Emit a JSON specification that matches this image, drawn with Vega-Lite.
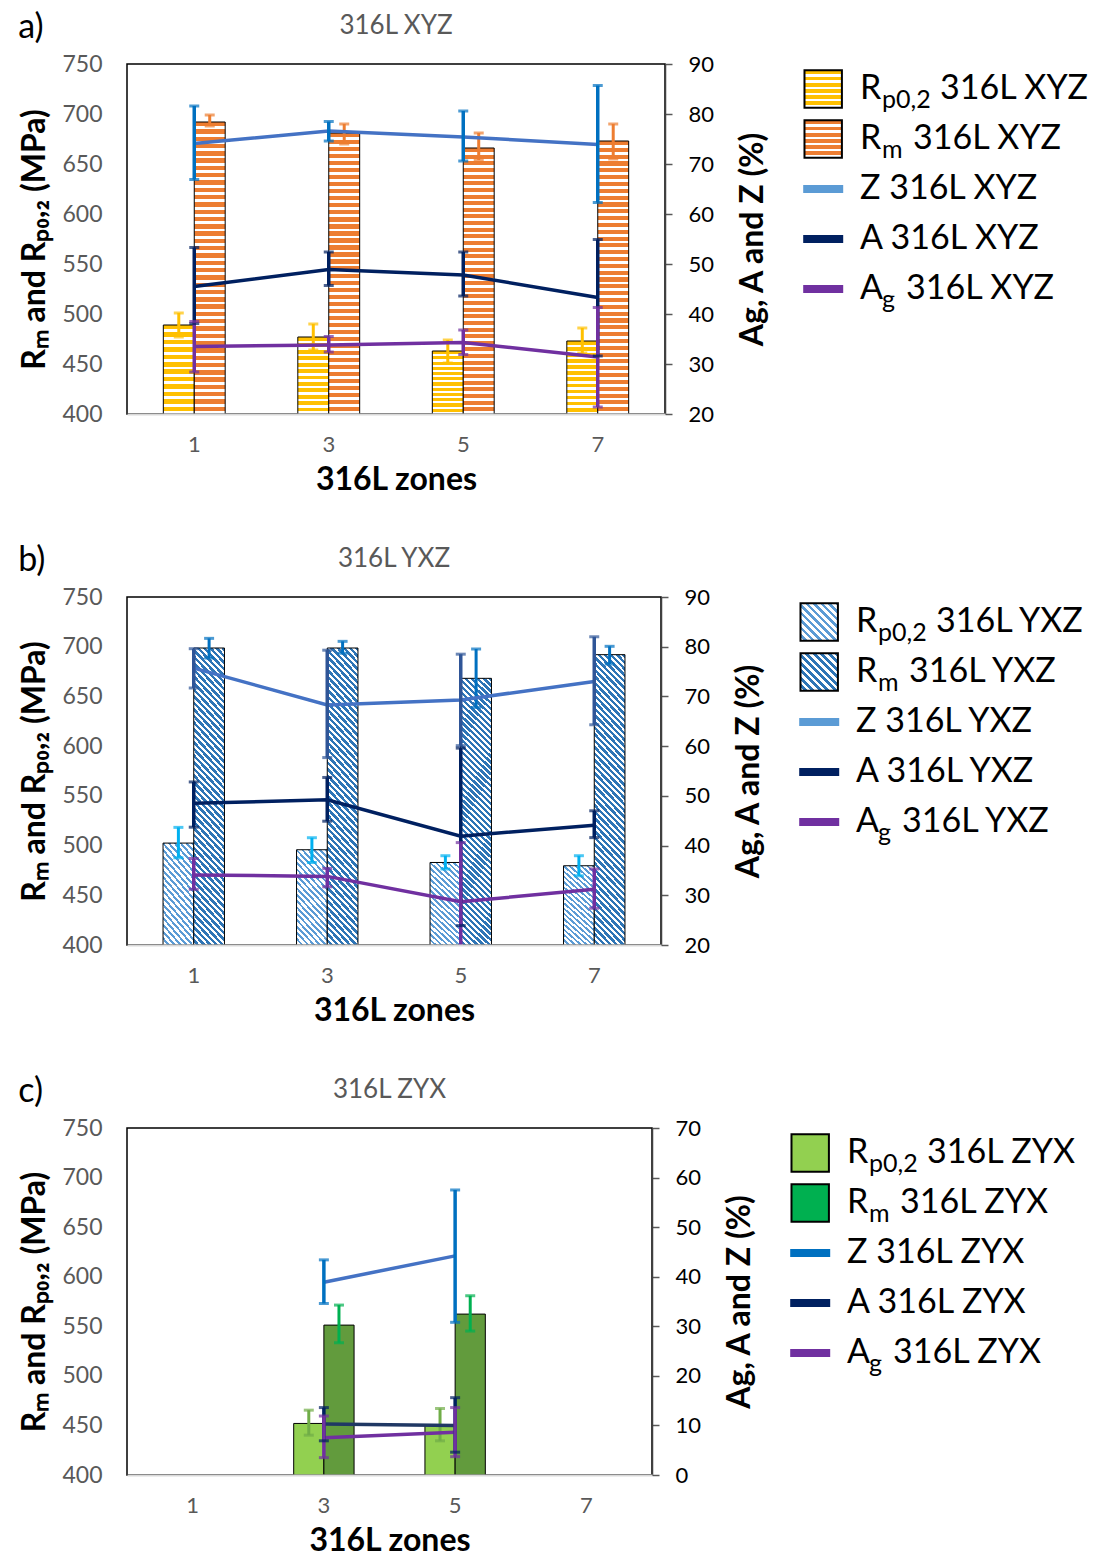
{
"$schema":"https://vega.github.io/schema/vega-lite/v6.json",
"padding":{"left":18,"top":11,"right":5,"bottom":5},
"config":{"font":"Lato","axis":{"grid":false,"labelFont":"Lato","titleFont":"Lato"},"view":{"stroke":"black","strokeWidth":1.5},"title":{"font":"Lato"}},
"spacing":48,
"resolve":{"scale":{"color":"independent","stroke":"independent","fill":"independent","xOffset":"independent"}},
"vconcat":[
{
"title":{"text":"a)","anchor":"start","fontSize":34,"fontWeight":"normal","color":"black","dy":37,"dx":0},
"spacing":30,
"hconcat":[
{
"width":538,"height":350,
"title":{"text":"316L XYZ","fontSize":26,"fontWeight":"normal","color":"#595959","offset":14},
"data":{"values":[
{"zone":"1","s":"Rp","v":489,"lo":477,"hi":501},
{"zone":"3","s":"Rp","v":477,"lo":464,"hi":490},
{"zone":"5","s":"Rp","v":463,"lo":451,"hi":474},
{"zone":"7","s":"Rp","v":473,"lo":461,"hi":486},
{"zone":"1","s":"Rm","v":692,"lo":688,"hi":699},
{"zone":"3","s":"Rm","v":681,"lo":670,"hi":690},
{"zone":"5","s":"Rm","v":666,"lo":654,"hi":681},
{"zone":"7","s":"Rm","v":673,"lo":655,"hi":690},
{"zone":"1","s":"Z","v":74.1,"lo":66.9,"hi":81.6},
{"zone":"3","s":"Z","v":76.6,"lo":74.6,"hi":78.5},
{"zone":"5","s":"Z","v":75.4,"lo":70.6,"hi":80.6},
{"zone":"7","s":"Z","v":73.9,"lo":62.3,"hi":85.7},
{"zone":"1","s":"A","v":45.5,"lo":38.1,"hi":53.3},
{"zone":"3","s":"A","v":48.9,"lo":45.7,"hi":52.4},
{"zone":"5","s":"A","v":47.8,"lo":43.6,"hi":52.4},
{"zone":"7","s":"A","v":43.3,"lo":31.6,"hi":54.9},
{"zone":"1","s":"Ag","v":33.5,"lo":28.4,"hi":38.5},
{"zone":"3","s":"Ag","v":33.8,"lo":32.4,"hi":35.5},
{"zone":"5","s":"Ag","v":34.3,"lo":31.9,"hi":36.8},
{"zone":"7","s":"Ag","v":31.4,"lo":21.4,"hi":41.3}
]},
"encoding":{
"x":{"field":"zone","type":"nominal","scale":{"domain":["1","3","5","7"],"paddingInner":0.54,"paddingOuter":0.27},"axis":{"labelAngle":0,"labelColor":"#595959","labelFontSize":22,"labelPadding":20,"ticks":false,"domainColor":"#D9D9D9","domainWidth":2,"title":"316L zones","titleFontSize":32,"titleFontWeight":"bold","titleColor":"black","titlePadding":9,"zindex":1}},
"color":{"field":"s","type":"nominal","scale":{"domain":["Rp","Rm","Z","A","Ag"],"range":["#FFC000","#ED7D31","#0070C0","#002060","#7030A0"]},"legend":null}
},
"layer":[
{
"transform":[{"filter":{"field":"s","oneOf":["Rp","Rm"]}}],
"encoding":{"xOffset":{"field":"s","type":"nominal","scale":{"domain":["Rp","Rm"],"paddingInner":0,"paddingOuter":0}}},
"layer":[
{"transform":[{"filter":"datum.s=='Rp'"}],
"mark":{"type":"bar","stroke":"black","strokeWidth":1,"fill":{"gradient":"linear","x1":0,"y1":0,"x2":0,"y2":1,"stops":[
{"offset":0,"color":"#FFC000"},{"offset":0.05,"color":"#FFC000"},{"offset":0.05,"color":"#fff"},{"offset":0.0833,"color":"#fff"},
{"offset":0.0833,"color":"#FFC000"},{"offset":0.1333,"color":"#FFC000"},{"offset":0.1333,"color":"#fff"},{"offset":0.1667,"color":"#fff"},
{"offset":0.1667,"color":"#FFC000"},{"offset":0.2167,"color":"#FFC000"},{"offset":0.2167,"color":"#fff"},{"offset":0.25,"color":"#fff"},
{"offset":0.25,"color":"#FFC000"},{"offset":0.3,"color":"#FFC000"},{"offset":0.3,"color":"#fff"},{"offset":0.3333,"color":"#fff"},
{"offset":0.3333,"color":"#FFC000"},{"offset":0.3833,"color":"#FFC000"},{"offset":0.3833,"color":"#fff"},{"offset":0.4167,"color":"#fff"},
{"offset":0.4167,"color":"#FFC000"},{"offset":0.4667,"color":"#FFC000"},{"offset":0.4667,"color":"#fff"},{"offset":0.5,"color":"#fff"},
{"offset":0.5,"color":"#FFC000"},{"offset":0.55,"color":"#FFC000"},{"offset":0.55,"color":"#fff"},{"offset":0.5833,"color":"#fff"},
{"offset":0.5833,"color":"#FFC000"},{"offset":0.6333,"color":"#FFC000"},{"offset":0.6333,"color":"#fff"},{"offset":0.6667,"color":"#fff"},
{"offset":0.6667,"color":"#FFC000"},{"offset":0.7167,"color":"#FFC000"},{"offset":0.7167,"color":"#fff"},{"offset":0.75,"color":"#fff"},
{"offset":0.75,"color":"#FFC000"},{"offset":0.8,"color":"#FFC000"},{"offset":0.8,"color":"#fff"},{"offset":0.8333,"color":"#fff"},
{"offset":0.8333,"color":"#FFC000"},{"offset":0.8833,"color":"#FFC000"},{"offset":0.8833,"color":"#fff"},{"offset":0.9167,"color":"#fff"},
{"offset":0.9167,"color":"#FFC000"},{"offset":0.9667,"color":"#FFC000"},{"offset":0.9667,"color":"#fff"},{"offset":1,"color":"#fff"}
]}},
"encoding":{"y":{"field":"v","type":"quantitative","scale":{"domain":[400,750],"zero":false,"nice":false},"axis":{"orient":"left","title":"Rₘ and Rₚ₀,₂ (MPa)","values":[400,450,500,550,600,650,700,750],"ticks":false,"domain":false,"labelColor":"#595959","labelFontSize":23,"labelPadding":25,"titleFontSize":32,"titleFontWeight":"bold","titleColor":"black","titlePadding":10}},"y2":{"datum":400}}
},
{"transform":[{"filter":"datum.s=='Rm'"}],
"mark":{"type":"bar","stroke":"black","strokeWidth":1,"fill":{"gradient":"linear","x1":0,"y1":0,"x2":0,"y2":1,"stops":[
{"offset":0,"color":"#ED7D31"},{"offset":0.015,"color":"#ED7D31"},{"offset":0.015,"color":"#fff"},{"offset":0.025,"color":"#fff"},
{"offset":0.025,"color":"#ED7D31"},{"offset":0.04,"color":"#ED7D31"},{"offset":0.04,"color":"#fff"},{"offset":0.05,"color":"#fff"},
{"offset":0.05,"color":"#ED7D31"},{"offset":0.065,"color":"#ED7D31"},{"offset":0.065,"color":"#fff"},{"offset":0.075,"color":"#fff"},
{"offset":0.075,"color":"#ED7D31"},{"offset":0.09,"color":"#ED7D31"},{"offset":0.09,"color":"#fff"},{"offset":0.1,"color":"#fff"},
{"offset":0.1,"color":"#ED7D31"},{"offset":0.115,"color":"#ED7D31"},{"offset":0.115,"color":"#fff"},{"offset":0.125,"color":"#fff"},
{"offset":0.125,"color":"#ED7D31"},{"offset":0.14,"color":"#ED7D31"},{"offset":0.14,"color":"#fff"},{"offset":0.15,"color":"#fff"},
{"offset":0.15,"color":"#ED7D31"},{"offset":0.165,"color":"#ED7D31"},{"offset":0.165,"color":"#fff"},{"offset":0.175,"color":"#fff"},
{"offset":0.175,"color":"#ED7D31"},{"offset":0.19,"color":"#ED7D31"},{"offset":0.19,"color":"#fff"},{"offset":0.2,"color":"#fff"},
{"offset":0.2,"color":"#ED7D31"},{"offset":0.215,"color":"#ED7D31"},{"offset":0.215,"color":"#fff"},{"offset":0.225,"color":"#fff"},
{"offset":0.225,"color":"#ED7D31"},{"offset":0.24,"color":"#ED7D31"},{"offset":0.24,"color":"#fff"},{"offset":0.25,"color":"#fff"},
{"offset":0.25,"color":"#ED7D31"},{"offset":0.265,"color":"#ED7D31"},{"offset":0.265,"color":"#fff"},{"offset":0.275,"color":"#fff"},
{"offset":0.275,"color":"#ED7D31"},{"offset":0.29,"color":"#ED7D31"},{"offset":0.29,"color":"#fff"},{"offset":0.3,"color":"#fff"},
{"offset":0.3,"color":"#ED7D31"},{"offset":0.315,"color":"#ED7D31"},{"offset":0.315,"color":"#fff"},{"offset":0.325,"color":"#fff"},
{"offset":0.325,"color":"#ED7D31"},{"offset":0.34,"color":"#ED7D31"},{"offset":0.34,"color":"#fff"},{"offset":0.35,"color":"#fff"},
{"offset":0.35,"color":"#ED7D31"},{"offset":0.365,"color":"#ED7D31"},{"offset":0.365,"color":"#fff"},{"offset":0.375,"color":"#fff"},
{"offset":0.375,"color":"#ED7D31"},{"offset":0.39,"color":"#ED7D31"},{"offset":0.39,"color":"#fff"},{"offset":0.4,"color":"#fff"},
{"offset":0.4,"color":"#ED7D31"},{"offset":0.415,"color":"#ED7D31"},{"offset":0.415,"color":"#fff"},{"offset":0.425,"color":"#fff"},
{"offset":0.425,"color":"#ED7D31"},{"offset":0.44,"color":"#ED7D31"},{"offset":0.44,"color":"#fff"},{"offset":0.45,"color":"#fff"},
{"offset":0.45,"color":"#ED7D31"},{"offset":0.465,"color":"#ED7D31"},{"offset":0.465,"color":"#fff"},{"offset":0.475,"color":"#fff"},
{"offset":0.475,"color":"#ED7D31"},{"offset":0.49,"color":"#ED7D31"},{"offset":0.49,"color":"#fff"},{"offset":0.5,"color":"#fff"},
{"offset":0.5,"color":"#ED7D31"},{"offset":0.515,"color":"#ED7D31"},{"offset":0.515,"color":"#fff"},{"offset":0.525,"color":"#fff"},
{"offset":0.525,"color":"#ED7D31"},{"offset":0.54,"color":"#ED7D31"},{"offset":0.54,"color":"#fff"},{"offset":0.55,"color":"#fff"},
{"offset":0.55,"color":"#ED7D31"},{"offset":0.565,"color":"#ED7D31"},{"offset":0.565,"color":"#fff"},{"offset":0.575,"color":"#fff"},
{"offset":0.575,"color":"#ED7D31"},{"offset":0.59,"color":"#ED7D31"},{"offset":0.59,"color":"#fff"},{"offset":0.6,"color":"#fff"},
{"offset":0.6,"color":"#ED7D31"},{"offset":0.615,"color":"#ED7D31"},{"offset":0.615,"color":"#fff"},{"offset":0.625,"color":"#fff"},
{"offset":0.625,"color":"#ED7D31"},{"offset":0.64,"color":"#ED7D31"},{"offset":0.64,"color":"#fff"},{"offset":0.65,"color":"#fff"},
{"offset":0.65,"color":"#ED7D31"},{"offset":0.665,"color":"#ED7D31"},{"offset":0.665,"color":"#fff"},{"offset":0.675,"color":"#fff"},
{"offset":0.675,"color":"#ED7D31"},{"offset":0.69,"color":"#ED7D31"},{"offset":0.69,"color":"#fff"},{"offset":0.7,"color":"#fff"},
{"offset":0.7,"color":"#ED7D31"},{"offset":0.715,"color":"#ED7D31"},{"offset":0.715,"color":"#fff"},{"offset":0.725,"color":"#fff"},
{"offset":0.725,"color":"#ED7D31"},{"offset":0.74,"color":"#ED7D31"},{"offset":0.74,"color":"#fff"},{"offset":0.75,"color":"#fff"},
{"offset":0.75,"color":"#ED7D31"},{"offset":0.765,"color":"#ED7D31"},{"offset":0.765,"color":"#fff"},{"offset":0.775,"color":"#fff"},
{"offset":0.775,"color":"#ED7D31"},{"offset":0.79,"color":"#ED7D31"},{"offset":0.79,"color":"#fff"},{"offset":0.8,"color":"#fff"},
{"offset":0.8,"color":"#ED7D31"},{"offset":0.815,"color":"#ED7D31"},{"offset":0.815,"color":"#fff"},{"offset":0.825,"color":"#fff"},
{"offset":0.825,"color":"#ED7D31"},{"offset":0.84,"color":"#ED7D31"},{"offset":0.84,"color":"#fff"},{"offset":0.85,"color":"#fff"},
{"offset":0.85,"color":"#ED7D31"},{"offset":0.865,"color":"#ED7D31"},{"offset":0.865,"color":"#fff"},{"offset":0.875,"color":"#fff"},
{"offset":0.875,"color":"#ED7D31"},{"offset":0.89,"color":"#ED7D31"},{"offset":0.89,"color":"#fff"},{"offset":0.9,"color":"#fff"},
{"offset":0.9,"color":"#ED7D31"},{"offset":0.915,"color":"#ED7D31"},{"offset":0.915,"color":"#fff"},{"offset":0.925,"color":"#fff"},
{"offset":0.925,"color":"#ED7D31"},{"offset":0.94,"color":"#ED7D31"},{"offset":0.94,"color":"#fff"},{"offset":0.95,"color":"#fff"},
{"offset":0.95,"color":"#ED7D31"},{"offset":0.965,"color":"#ED7D31"},{"offset":0.965,"color":"#fff"},{"offset":0.975,"color":"#fff"},
{"offset":0.975,"color":"#ED7D31"},{"offset":0.99,"color":"#ED7D31"},{"offset":0.99,"color":"#fff"},{"offset":1,"color":"#fff"}
]}},
"encoding":{"y":{"field":"v","type":"quantitative"},"y2":{"datum":400}}
},
{"mark":{"type":"rule","strokeWidth":3},"encoding":{"y":{"field":"lo","type":"quantitative"},"y2":{"field":"hi"}}},
{"mark":{"type":"tick","orient":"horizontal","thickness":3,"size":10},"encoding":{"y":{"field":"lo","type":"quantitative"}}},
{"mark":{"type":"tick","orient":"horizontal","thickness":3,"size":10},"encoding":{"y":{"field":"hi","type":"quantitative"}}}
]
},
{
"transform":[{"filter":{"field":"s","oneOf":["Z","A","Ag"]}}],
"layer":[
{"mark":{"type":"line","strokeWidth":3.5,"clip":true},"encoding":{"y":{"field":"v","type":"quantitative","scale":{"domain":[20,90],"zero":false,"nice":false},"axis":{"orient":"right","title":"Ag, A and Z (%)","titleAngle":270,"titleBaseline":"top","values":[20,30,40,50,60,70,80,90],"labelColor":"black","labelFontSize":22,"labelPadding":16,"ticks":true,"tickSize":7,"tickColor":"#595959","tickWidth":1.5,"domain":true,"domainColor":"#404040","domainWidth":1.5,"titleFontSize":32,"titleFontWeight":"bold","titleColor":"black","titlePadding":24}},"stroke":{"field":"s","type":"nominal","scale":{"domain":["Z","A","Ag"],"range":["#4472C4","#002060","#7030A0"]},"legend":null}}},
{"mark":{"type":"rule","strokeWidth":3.5,"clip":true},"encoding":{"y":{"field":"lo","type":"quantitative"},"y2":{"field":"hi"}}},
{"mark":{"type":"tick","orient":"horizontal","thickness":3,"size":10,"clip":true},"encoding":{"y":{"field":"lo","type":"quantitative"}}},
{"mark":{"type":"tick","orient":"horizontal","thickness":3,"size":10,"clip":true},"encoding":{"y":{"field":"hi","type":"quantitative"}}}
]
}
],
"resolve":{"scale":{"y":"independent"}}
},
{
"width":290,"height":250,"view":{"stroke":null},
"data":{"values":[
{"k":"Rp","m":"R","sub":"p0,2","r":"316L XYZ"},
{"k":"Rm","m":"R","sub":"m","r":"316L XYZ"},
{"k":"Z","m":"Z 316L XYZ"},
{"k":"A","m":"A 316L XYZ"},
{"k":"Ag","m":"A","sub":"g","r":"316L XYZ"}
]},
"encoding":{"y":{"field":"k","type":"nominal","scale":{"domain":["Rp","Rm","Z","A","Ag"],"paddingInner":0,"paddingOuter":0.1},"axis":null}},
"layer":[
{"transform":[{"filter":"datum.k=='Rp'"}],"mark":{"type":"point","shape":"square","size":1400,"filled":true,"opacity":1,"stroke":"black","strokeWidth":2,"fill":{"gradient":"linear","x1":0,"y1":0,"x2":0,"y2":1,"stops":[
{"offset":0,"color":"#FFC000"},{"offset":0.1,"color":"#FFC000"},{"offset":0.1,"color":"#fff"},{"offset":0.1667,"color":"#fff"},
{"offset":0.1667,"color":"#FFC000"},{"offset":0.2667,"color":"#FFC000"},{"offset":0.2667,"color":"#fff"},{"offset":0.3333,"color":"#fff"},
{"offset":0.3333,"color":"#FFC000"},{"offset":0.4333,"color":"#FFC000"},{"offset":0.4333,"color":"#fff"},{"offset":0.5,"color":"#fff"},
{"offset":0.5,"color":"#FFC000"},{"offset":0.6,"color":"#FFC000"},{"offset":0.6,"color":"#fff"},{"offset":0.6667,"color":"#fff"},
{"offset":0.6667,"color":"#FFC000"},{"offset":0.7667,"color":"#FFC000"},{"offset":0.7667,"color":"#fff"},{"offset":0.8333,"color":"#fff"},
{"offset":0.8333,"color":"#FFC000"},{"offset":0.9333,"color":"#FFC000"},{"offset":0.9333,"color":"#fff"},{"offset":1,"color":"#fff"}]}},
"encoding":{"x":{"datum":0.08,"type":"quantitative","scale":{"domain":[0,1]},"axis":null}}},
{"transform":[{"filter":"datum.k=='Rm'"}],"mark":{"type":"point","shape":"square","size":1400,"filled":true,"opacity":1,"stroke":"black","strokeWidth":2,"fill":{"gradient":"linear","x1":0,"y1":0,"x2":0,"y2":1,"stops":[
{"offset":0,"color":"#ED7D31"},{"offset":0.1,"color":"#ED7D31"},{"offset":0.1,"color":"#fff"},{"offset":0.1667,"color":"#fff"},
{"offset":0.1667,"color":"#ED7D31"},{"offset":0.2667,"color":"#ED7D31"},{"offset":0.2667,"color":"#fff"},{"offset":0.3333,"color":"#fff"},
{"offset":0.3333,"color":"#ED7D31"},{"offset":0.4333,"color":"#ED7D31"},{"offset":0.4333,"color":"#fff"},{"offset":0.5,"color":"#fff"},
{"offset":0.5,"color":"#ED7D31"},{"offset":0.6,"color":"#ED7D31"},{"offset":0.6,"color":"#fff"},{"offset":0.6667,"color":"#fff"},
{"offset":0.6667,"color":"#ED7D31"},{"offset":0.7667,"color":"#ED7D31"},{"offset":0.7667,"color":"#fff"},{"offset":0.8333,"color":"#fff"},
{"offset":0.8333,"color":"#ED7D31"},{"offset":0.9333,"color":"#ED7D31"},{"offset":0.9333,"color":"#fff"},{"offset":1,"color":"#fff"}]}},
"encoding":{"x":{"datum":0.08,"type":"quantitative"}}},
{"transform":[{"filter":{"field":"k","oneOf":["Z","A","Ag"]}}],"mark":{"type":"point","shape":"M-1,-0.2H1V0.2H-1Z","size":1600,"filled":true,"opacity":1,"strokeWidth":0},
"encoding":{"x":{"datum":0.08,"type":"quantitative"},"fill":{"field":"k","type":"nominal","scale":{"domain":["Z","A","Ag"],"range":["#5B9BD5","#002060","#7030A0"]},"legend":null}}},
{"mark":{"type":"text","align":"left","baseline":"middle","fontSize":34},"encoding":{"x":{"datum":0.207,"type":"quantitative"},"text":{"field":"m"}}},
{"transform":[{"filter":"datum.sub"}],"mark":{"type":"text","align":"left","baseline":"middle","fontSize":25,"dx":22,"dy":11},"encoding":{"x":{"datum":0.207,"type":"quantitative"},"text":{"field":"sub"}}},
{"transform":[{"filter":"datum.k=='Rp'"}],"mark":{"type":"text","align":"left","baseline":"middle","fontSize":34,"dx":80},"encoding":{"x":{"datum":0.207,"type":"quantitative"},"text":{"field":"r"}}},
{"transform":[{"filter":"datum.k=='Rm'"}],"mark":{"type":"text","align":"left","baseline":"middle","fontSize":34,"dx":53},"encoding":{"x":{"datum":0.207,"type":"quantitative"},"text":{"field":"r"}}},
{"transform":[{"filter":"datum.k=='Ag'"}],"mark":{"type":"text","align":"left","baseline":"middle","fontSize":34,"dx":46},"encoding":{"x":{"datum":0.207,"type":"quantitative"},"text":{"field":"r"}}}
]
}
]
},
{
"title":{"text":"b)","anchor":"start","fontSize":34,"fontWeight":"normal","color":"black","dy":37,"dx":0},
"spacing":30,
"hconcat":[
{
"width":534,"height":348,
"title":{"text":"316L YXZ","fontSize":26,"fontWeight":"normal","color":"#595959","offset":14},
"data":{"values":[
{"zone":"1","s":"Rp","v":502.5,"lo":487.7,"hi":518.3},
{"zone":"3","s":"Rp","v":495.8,"lo":483,"hi":507.9},
{"zone":"5","s":"Rp","v":483,"lo":476.4,"hi":489.8},
{"zone":"7","s":"Rp","v":479.7,"lo":469.6,"hi":489.8},
{"zone":"1","s":"Rm","v":698.7,"lo":688.6,"hi":708.4},
{"zone":"3","s":"Rm","v":698.7,"lo":693.4,"hi":705.4},
{"zone":"5","s":"Rm","v":668.2,"lo":638.9,"hi":697.7},
{"zone":"7","s":"Rm","v":692,"lo":682.6,"hi":700.4},
{"zone":"1","s":"Z","v":75.7,"lo":71.7,"hi":79.6},
{"zone":"3","s":"Z","v":68.3,"lo":57.7,"hi":79.3},
{"zone":"5","s":"Z","v":69.3,"lo":60.1,"hi":78.5},
{"zone":"7","s":"Z","v":73.0,"lo":64.3,"hi":82.0},
{"zone":"1","s":"A","v":48.5,"lo":43.7,"hi":52.8},
{"zone":"3","s":"A","v":49.2,"lo":44.9,"hi":53.7},
{"zone":"5","s":"A","v":41.9,"lo":23.9,"hi":59.6},
{"zone":"7","s":"A","v":44.1,"lo":41.6,"hi":47.0},
{"zone":"1","s":"Ag","v":34.1,"lo":31.2,"hi":37.4},
{"zone":"3","s":"Ag","v":33.8,"lo":31.7,"hi":35.4},
{"zone":"5","s":"Ag","v":28.7,"lo":16.8,"hi":40.6},
{"zone":"7","s":"Ag","v":31.2,"lo":27.4,"hi":35.3}
]},
"encoding":{
"x":{"field":"zone","type":"nominal","scale":{"domain":["1","3","5","7"],"paddingInner":0.54,"paddingOuter":0.27},"axis":{"labelAngle":0,"labelColor":"#595959","labelFontSize":22,"labelPadding":20,"ticks":false,"domainColor":"#D9D9D9","domainWidth":2,"title":"316L zones","titleFontSize":32,"titleFontWeight":"bold","titleColor":"black","titlePadding":9,"zindex":1}},
"color":{"field":"s","type":"nominal","scale":{"domain":["Rp","Rm","Z","A","Ag"],"range":["#00B0F0","#0070C0","#2F5597","#002060","#7030A0"]},"legend":null}
},
"layer":[
{
"transform":[{"filter":{"field":"s","oneOf":["Rp","Rm"]}}],
"encoding":{"xOffset":{"field":"s","type":"nominal","scale":{"domain":["Rp","Rm"],"paddingInner":0,"paddingOuter":0}}},
"layer":[
{"transform":[{"filter":"datum.s=='Rp'"}],"mark":{"type":"bar","stroke":"black","strokeWidth":1,"fill":{"gradient":"linear","x1":1,"y1":0,"x2":0.587,"y2":1.19,"stops":[
{"offset":0,"color":"#5B9BD5"},{"offset":0.0225,"color":"#5B9BD5"},{"offset":0.0225,"color":"#fff"},{"offset":0.05,"color":"#fff"},
{"offset":0.05,"color":"#5B9BD5"},{"offset":0.0725,"color":"#5B9BD5"},{"offset":0.0725,"color":"#fff"},{"offset":0.1,"color":"#fff"},
{"offset":0.1,"color":"#5B9BD5"},{"offset":0.1225,"color":"#5B9BD5"},{"offset":0.1225,"color":"#fff"},{"offset":0.15,"color":"#fff"},
{"offset":0.15,"color":"#5B9BD5"},{"offset":0.1725,"color":"#5B9BD5"},{"offset":0.1725,"color":"#fff"},{"offset":0.2,"color":"#fff"},
{"offset":0.2,"color":"#5B9BD5"},{"offset":0.2225,"color":"#5B9BD5"},{"offset":0.2225,"color":"#fff"},{"offset":0.25,"color":"#fff"},
{"offset":0.25,"color":"#5B9BD5"},{"offset":0.2725,"color":"#5B9BD5"},{"offset":0.2725,"color":"#fff"},{"offset":0.3,"color":"#fff"},
{"offset":0.3,"color":"#5B9BD5"},{"offset":0.3225,"color":"#5B9BD5"},{"offset":0.3225,"color":"#fff"},{"offset":0.35,"color":"#fff"},
{"offset":0.35,"color":"#5B9BD5"},{"offset":0.3725,"color":"#5B9BD5"},{"offset":0.3725,"color":"#fff"},{"offset":0.4,"color":"#fff"},
{"offset":0.4,"color":"#5B9BD5"},{"offset":0.4225,"color":"#5B9BD5"},{"offset":0.4225,"color":"#fff"},{"offset":0.45,"color":"#fff"},
{"offset":0.45,"color":"#5B9BD5"},{"offset":0.4725,"color":"#5B9BD5"},{"offset":0.4725,"color":"#fff"},{"offset":0.5,"color":"#fff"},
{"offset":0.5,"color":"#5B9BD5"},{"offset":0.5225,"color":"#5B9BD5"},{"offset":0.5225,"color":"#fff"},{"offset":0.55,"color":"#fff"},
{"offset":0.55,"color":"#5B9BD5"},{"offset":0.5725,"color":"#5B9BD5"},{"offset":0.5725,"color":"#fff"},{"offset":0.6,"color":"#fff"},
{"offset":0.6,"color":"#5B9BD5"},{"offset":0.6225,"color":"#5B9BD5"},{"offset":0.6225,"color":"#fff"},{"offset":0.65,"color":"#fff"},
{"offset":0.65,"color":"#5B9BD5"},{"offset":0.6725,"color":"#5B9BD5"},{"offset":0.6725,"color":"#fff"},{"offset":0.7,"color":"#fff"},
{"offset":0.7,"color":"#5B9BD5"},{"offset":0.7225,"color":"#5B9BD5"},{"offset":0.7225,"color":"#fff"},{"offset":0.75,"color":"#fff"},
{"offset":0.75,"color":"#5B9BD5"},{"offset":0.7725,"color":"#5B9BD5"},{"offset":0.7725,"color":"#fff"},{"offset":0.8,"color":"#fff"},
{"offset":0.8,"color":"#5B9BD5"},{"offset":0.8225,"color":"#5B9BD5"},{"offset":0.8225,"color":"#fff"},{"offset":0.85,"color":"#fff"},
{"offset":0.85,"color":"#5B9BD5"},{"offset":0.8725,"color":"#5B9BD5"},{"offset":0.8725,"color":"#fff"},{"offset":0.9,"color":"#fff"},
{"offset":0.9,"color":"#5B9BD5"},{"offset":0.9225,"color":"#5B9BD5"},{"offset":0.9225,"color":"#fff"},{"offset":0.95,"color":"#fff"},
{"offset":0.95,"color":"#5B9BD5"},{"offset":0.9725,"color":"#5B9BD5"},{"offset":0.9725,"color":"#fff"},{"offset":1,"color":"#fff"}
]}},
"encoding":{"y":{"field":"v","type":"quantitative","scale":{"domain":[400,750],"zero":false,"nice":false},"axis":{"orient":"left","title":"Rₘ and Rₚ₀,₂ (MPa)","values":[400,450,500,550,600,650,700,750],"ticks":false,"domain":false,"labelColor":"#595959","labelFontSize":23,"labelPadding":25,"titleFontSize":32,"titleFontWeight":"bold","titleColor":"black","titlePadding":10}},"y2":{"datum":400}}},
{"transform":[{"filter":"datum.s=='Rm'"}],"mark":{"type":"bar","stroke":"black","strokeWidth":1,"fill":{"gradient":"linear","x1":1,"y1":0,"x2":0.878,"y2":1.0976,"stops":[
{"offset":0,"color":"#2E75B6"},{"offset":0.011,"color":"#2E75B6"},{"offset":0.011,"color":"#fff"},{"offset":0.02,"color":"#fff"},
{"offset":0.02,"color":"#2E75B6"},{"offset":0.031,"color":"#2E75B6"},{"offset":0.031,"color":"#fff"},{"offset":0.04,"color":"#fff"},
{"offset":0.04,"color":"#2E75B6"},{"offset":0.051,"color":"#2E75B6"},{"offset":0.051,"color":"#fff"},{"offset":0.06,"color":"#fff"},
{"offset":0.06,"color":"#2E75B6"},{"offset":0.071,"color":"#2E75B6"},{"offset":0.071,"color":"#fff"},{"offset":0.08,"color":"#fff"},
{"offset":0.08,"color":"#2E75B6"},{"offset":0.091,"color":"#2E75B6"},{"offset":0.091,"color":"#fff"},{"offset":0.1,"color":"#fff"},
{"offset":0.1,"color":"#2E75B6"},{"offset":0.111,"color":"#2E75B6"},{"offset":0.111,"color":"#fff"},{"offset":0.12,"color":"#fff"},
{"offset":0.12,"color":"#2E75B6"},{"offset":0.131,"color":"#2E75B6"},{"offset":0.131,"color":"#fff"},{"offset":0.14,"color":"#fff"},
{"offset":0.14,"color":"#2E75B6"},{"offset":0.151,"color":"#2E75B6"},{"offset":0.151,"color":"#fff"},{"offset":0.16,"color":"#fff"},
{"offset":0.16,"color":"#2E75B6"},{"offset":0.171,"color":"#2E75B6"},{"offset":0.171,"color":"#fff"},{"offset":0.18,"color":"#fff"},
{"offset":0.18,"color":"#2E75B6"},{"offset":0.191,"color":"#2E75B6"},{"offset":0.191,"color":"#fff"},{"offset":0.2,"color":"#fff"},
{"offset":0.2,"color":"#2E75B6"},{"offset":0.211,"color":"#2E75B6"},{"offset":0.211,"color":"#fff"},{"offset":0.22,"color":"#fff"},
{"offset":0.22,"color":"#2E75B6"},{"offset":0.231,"color":"#2E75B6"},{"offset":0.231,"color":"#fff"},{"offset":0.24,"color":"#fff"},
{"offset":0.24,"color":"#2E75B6"},{"offset":0.251,"color":"#2E75B6"},{"offset":0.251,"color":"#fff"},{"offset":0.26,"color":"#fff"},
{"offset":0.26,"color":"#2E75B6"},{"offset":0.271,"color":"#2E75B6"},{"offset":0.271,"color":"#fff"},{"offset":0.28,"color":"#fff"},
{"offset":0.28,"color":"#2E75B6"},{"offset":0.291,"color":"#2E75B6"},{"offset":0.291,"color":"#fff"},{"offset":0.3,"color":"#fff"},
{"offset":0.3,"color":"#2E75B6"},{"offset":0.311,"color":"#2E75B6"},{"offset":0.311,"color":"#fff"},{"offset":0.32,"color":"#fff"},
{"offset":0.32,"color":"#2E75B6"},{"offset":0.331,"color":"#2E75B6"},{"offset":0.331,"color":"#fff"},{"offset":0.34,"color":"#fff"},
{"offset":0.34,"color":"#2E75B6"},{"offset":0.351,"color":"#2E75B6"},{"offset":0.351,"color":"#fff"},{"offset":0.36,"color":"#fff"},
{"offset":0.36,"color":"#2E75B6"},{"offset":0.371,"color":"#2E75B6"},{"offset":0.371,"color":"#fff"},{"offset":0.38,"color":"#fff"},
{"offset":0.38,"color":"#2E75B6"},{"offset":0.391,"color":"#2E75B6"},{"offset":0.391,"color":"#fff"},{"offset":0.4,"color":"#fff"},
{"offset":0.4,"color":"#2E75B6"},{"offset":0.411,"color":"#2E75B6"},{"offset":0.411,"color":"#fff"},{"offset":0.42,"color":"#fff"},
{"offset":0.42,"color":"#2E75B6"},{"offset":0.431,"color":"#2E75B6"},{"offset":0.431,"color":"#fff"},{"offset":0.44,"color":"#fff"},
{"offset":0.44,"color":"#2E75B6"},{"offset":0.451,"color":"#2E75B6"},{"offset":0.451,"color":"#fff"},{"offset":0.46,"color":"#fff"},
{"offset":0.46,"color":"#2E75B6"},{"offset":0.471,"color":"#2E75B6"},{"offset":0.471,"color":"#fff"},{"offset":0.48,"color":"#fff"},
{"offset":0.48,"color":"#2E75B6"},{"offset":0.491,"color":"#2E75B6"},{"offset":0.491,"color":"#fff"},{"offset":0.5,"color":"#fff"},
{"offset":0.5,"color":"#2E75B6"},{"offset":0.511,"color":"#2E75B6"},{"offset":0.511,"color":"#fff"},{"offset":0.52,"color":"#fff"},
{"offset":0.52,"color":"#2E75B6"},{"offset":0.531,"color":"#2E75B6"},{"offset":0.531,"color":"#fff"},{"offset":0.54,"color":"#fff"},
{"offset":0.54,"color":"#2E75B6"},{"offset":0.551,"color":"#2E75B6"},{"offset":0.551,"color":"#fff"},{"offset":0.56,"color":"#fff"},
{"offset":0.56,"color":"#2E75B6"},{"offset":0.571,"color":"#2E75B6"},{"offset":0.571,"color":"#fff"},{"offset":0.58,"color":"#fff"},
{"offset":0.58,"color":"#2E75B6"},{"offset":0.591,"color":"#2E75B6"},{"offset":0.591,"color":"#fff"},{"offset":0.6,"color":"#fff"},
{"offset":0.6,"color":"#2E75B6"},{"offset":0.611,"color":"#2E75B6"},{"offset":0.611,"color":"#fff"},{"offset":0.62,"color":"#fff"},
{"offset":0.62,"color":"#2E75B6"},{"offset":0.631,"color":"#2E75B6"},{"offset":0.631,"color":"#fff"},{"offset":0.64,"color":"#fff"},
{"offset":0.64,"color":"#2E75B6"},{"offset":0.651,"color":"#2E75B6"},{"offset":0.651,"color":"#fff"},{"offset":0.66,"color":"#fff"},
{"offset":0.66,"color":"#2E75B6"},{"offset":0.671,"color":"#2E75B6"},{"offset":0.671,"color":"#fff"},{"offset":0.68,"color":"#fff"},
{"offset":0.68,"color":"#2E75B6"},{"offset":0.691,"color":"#2E75B6"},{"offset":0.691,"color":"#fff"},{"offset":0.7,"color":"#fff"},
{"offset":0.7,"color":"#2E75B6"},{"offset":0.711,"color":"#2E75B6"},{"offset":0.711,"color":"#fff"},{"offset":0.72,"color":"#fff"},
{"offset":0.72,"color":"#2E75B6"},{"offset":0.731,"color":"#2E75B6"},{"offset":0.731,"color":"#fff"},{"offset":0.74,"color":"#fff"},
{"offset":0.74,"color":"#2E75B6"},{"offset":0.751,"color":"#2E75B6"},{"offset":0.751,"color":"#fff"},{"offset":0.76,"color":"#fff"},
{"offset":0.76,"color":"#2E75B6"},{"offset":0.771,"color":"#2E75B6"},{"offset":0.771,"color":"#fff"},{"offset":0.78,"color":"#fff"},
{"offset":0.78,"color":"#2E75B6"},{"offset":0.791,"color":"#2E75B6"},{"offset":0.791,"color":"#fff"},{"offset":0.8,"color":"#fff"},
{"offset":0.8,"color":"#2E75B6"},{"offset":0.811,"color":"#2E75B6"},{"offset":0.811,"color":"#fff"},{"offset":0.82,"color":"#fff"},
{"offset":0.82,"color":"#2E75B6"},{"offset":0.831,"color":"#2E75B6"},{"offset":0.831,"color":"#fff"},{"offset":0.84,"color":"#fff"},
{"offset":0.84,"color":"#2E75B6"},{"offset":0.851,"color":"#2E75B6"},{"offset":0.851,"color":"#fff"},{"offset":0.86,"color":"#fff"},
{"offset":0.86,"color":"#2E75B6"},{"offset":0.871,"color":"#2E75B6"},{"offset":0.871,"color":"#fff"},{"offset":0.88,"color":"#fff"},
{"offset":0.88,"color":"#2E75B6"},{"offset":0.891,"color":"#2E75B6"},{"offset":0.891,"color":"#fff"},{"offset":0.9,"color":"#fff"},
{"offset":0.9,"color":"#2E75B6"},{"offset":0.911,"color":"#2E75B6"},{"offset":0.911,"color":"#fff"},{"offset":0.92,"color":"#fff"},
{"offset":0.92,"color":"#2E75B6"},{"offset":0.931,"color":"#2E75B6"},{"offset":0.931,"color":"#fff"},{"offset":0.94,"color":"#fff"},
{"offset":0.94,"color":"#2E75B6"},{"offset":0.951,"color":"#2E75B6"},{"offset":0.951,"color":"#fff"},{"offset":0.96,"color":"#fff"},
{"offset":0.96,"color":"#2E75B6"},{"offset":0.971,"color":"#2E75B6"},{"offset":0.971,"color":"#fff"},{"offset":0.98,"color":"#fff"},
{"offset":0.98,"color":"#2E75B6"},{"offset":0.991,"color":"#2E75B6"},{"offset":0.991,"color":"#fff"},{"offset":1,"color":"#fff"}
]}},
"encoding":{"y":{"field":"v","type":"quantitative"},"y2":{"datum":400}}},
{"mark":{"type":"rule","strokeWidth":3},"encoding":{"y":{"field":"lo","type":"quantitative"},"y2":{"field":"hi"}}},
{"mark":{"type":"tick","orient":"horizontal","thickness":3,"size":10},"encoding":{"y":{"field":"lo","type":"quantitative"}}},
{"mark":{"type":"tick","orient":"horizontal","thickness":3,"size":10},"encoding":{"y":{"field":"hi","type":"quantitative"}}}
]
},
{
"transform":[{"filter":{"field":"s","oneOf":["Z","A","Ag"]}}],
"layer":[
{"mark":{"type":"line","strokeWidth":3.5,"clip":true},"encoding":{"y":{"field":"v","type":"quantitative","scale":{"domain":[20,90],"zero":false,"nice":false},"axis":{"orient":"right","title":"Ag, A and Z (%)","titleAngle":270,"titleBaseline":"top","values":[20,30,40,50,60,70,80,90],"labelColor":"black","labelFontSize":22,"labelPadding":16,"ticks":true,"tickSize":7,"tickColor":"#595959","tickWidth":1.5,"domain":true,"domainColor":"#404040","domainWidth":1.5,"titleFontSize":32,"titleFontWeight":"bold","titleColor":"black","titlePadding":24}},"stroke":{"field":"s","type":"nominal","scale":{"domain":["Z","A","Ag"],"range":["#4472C4","#002060","#7030A0"]},"legend":null}}},
{"mark":{"type":"rule","strokeWidth":3.5,"clip":true},"encoding":{"y":{"field":"lo","type":"quantitative"},"y2":{"field":"hi"}}},
{"mark":{"type":"tick","orient":"horizontal","thickness":3,"size":10,"clip":true},"encoding":{"y":{"field":"lo","type":"quantitative"}}},
{"mark":{"type":"tick","orient":"horizontal","thickness":3,"size":10,"clip":true},"encoding":{"y":{"field":"hi","type":"quantitative"}}}
]
}
],
"resolve":{"scale":{"y":"independent"}}
},
{
"width":290,"height":250,"view":{"stroke":null},
"data":{"values":[
{"k":"Rp","m":"R","sub":"p0,2","r":"316L YXZ"},
{"k":"Rm","m":"R","sub":"m","r":"316L YXZ"},
{"k":"Z","m":"Z 316L YXZ"},
{"k":"A","m":"A 316L YXZ"},
{"k":"Ag","m":"A","sub":"g","r":"316L YXZ"}
]},
"encoding":{"y":{"field":"k","type":"nominal","scale":{"domain":["Rp","Rm","Z","A","Ag"],"paddingInner":0,"paddingOuter":0.1},"axis":null}},
"layer":[
{"transform":[{"filter":"datum.k=='Rp'"}],"mark":{"type":"point","shape":"square","size":1400,"filled":true,"opacity":1,"stroke":"black","strokeWidth":2,"fill":{"gradient":"linear","x1":1,"y1":0,"x2":0,"y2":1,"stops":[
{"offset":0,"color":"#5B9BD5"},{"offset":0.045,"color":"#5B9BD5"},{"offset":0.045,"color":"#fff"},{"offset":0.1,"color":"#fff"},
{"offset":0.1,"color":"#5B9BD5"},{"offset":0.145,"color":"#5B9BD5"},{"offset":0.145,"color":"#fff"},{"offset":0.2,"color":"#fff"},
{"offset":0.2,"color":"#5B9BD5"},{"offset":0.245,"color":"#5B9BD5"},{"offset":0.245,"color":"#fff"},{"offset":0.3,"color":"#fff"},
{"offset":0.3,"color":"#5B9BD5"},{"offset":0.345,"color":"#5B9BD5"},{"offset":0.345,"color":"#fff"},{"offset":0.4,"color":"#fff"},
{"offset":0.4,"color":"#5B9BD5"},{"offset":0.445,"color":"#5B9BD5"},{"offset":0.445,"color":"#fff"},{"offset":0.5,"color":"#fff"},
{"offset":0.5,"color":"#5B9BD5"},{"offset":0.545,"color":"#5B9BD5"},{"offset":0.545,"color":"#fff"},{"offset":0.6,"color":"#fff"},
{"offset":0.6,"color":"#5B9BD5"},{"offset":0.645,"color":"#5B9BD5"},{"offset":0.645,"color":"#fff"},{"offset":0.7,"color":"#fff"},
{"offset":0.7,"color":"#5B9BD5"},{"offset":0.745,"color":"#5B9BD5"},{"offset":0.745,"color":"#fff"},{"offset":0.8,"color":"#fff"},
{"offset":0.8,"color":"#5B9BD5"},{"offset":0.845,"color":"#5B9BD5"},{"offset":0.845,"color":"#fff"},{"offset":0.9,"color":"#fff"},
{"offset":0.9,"color":"#5B9BD5"},{"offset":0.945,"color":"#5B9BD5"},{"offset":0.945,"color":"#fff"},{"offset":1,"color":"#fff"}]}},
"encoding":{"x":{"datum":0.08,"type":"quantitative","scale":{"domain":[0,1]},"axis":null}}},
{"transform":[{"filter":"datum.k=='Rm'"}],"mark":{"type":"point","shape":"square","size":1400,"filled":true,"opacity":1,"stroke":"black","strokeWidth":2,"fill":{"gradient":"linear","x1":1,"y1":0,"x2":0,"y2":1,"stops":[
{"offset":0,"color":"#2E75B6"},{"offset":0.055,"color":"#2E75B6"},{"offset":0.055,"color":"#fff"},{"offset":0.1,"color":"#fff"},
{"offset":0.1,"color":"#2E75B6"},{"offset":0.155,"color":"#2E75B6"},{"offset":0.155,"color":"#fff"},{"offset":0.2,"color":"#fff"},
{"offset":0.2,"color":"#2E75B6"},{"offset":0.255,"color":"#2E75B6"},{"offset":0.255,"color":"#fff"},{"offset":0.3,"color":"#fff"},
{"offset":0.3,"color":"#2E75B6"},{"offset":0.355,"color":"#2E75B6"},{"offset":0.355,"color":"#fff"},{"offset":0.4,"color":"#fff"},
{"offset":0.4,"color":"#2E75B6"},{"offset":0.455,"color":"#2E75B6"},{"offset":0.455,"color":"#fff"},{"offset":0.5,"color":"#fff"},
{"offset":0.5,"color":"#2E75B6"},{"offset":0.555,"color":"#2E75B6"},{"offset":0.555,"color":"#fff"},{"offset":0.6,"color":"#fff"},
{"offset":0.6,"color":"#2E75B6"},{"offset":0.655,"color":"#2E75B6"},{"offset":0.655,"color":"#fff"},{"offset":0.7,"color":"#fff"},
{"offset":0.7,"color":"#2E75B6"},{"offset":0.755,"color":"#2E75B6"},{"offset":0.755,"color":"#fff"},{"offset":0.8,"color":"#fff"},
{"offset":0.8,"color":"#2E75B6"},{"offset":0.855,"color":"#2E75B6"},{"offset":0.855,"color":"#fff"},{"offset":0.9,"color":"#fff"},
{"offset":0.9,"color":"#2E75B6"},{"offset":0.955,"color":"#2E75B6"},{"offset":0.955,"color":"#fff"},{"offset":1,"color":"#fff"}]}},
"encoding":{"x":{"datum":0.08,"type":"quantitative"}}},
{"transform":[{"filter":{"field":"k","oneOf":["Z","A","Ag"]}}],"mark":{"type":"point","shape":"M-1,-0.2H1V0.2H-1Z","size":1600,"filled":true,"opacity":1,"strokeWidth":0},
"encoding":{"x":{"datum":0.08,"type":"quantitative"},"fill":{"field":"k","type":"nominal","scale":{"domain":["Z","A","Ag"],"range":["#5B9BD5","#002060","#7030A0"]},"legend":null}}},
{"mark":{"type":"text","align":"left","baseline":"middle","fontSize":34},"encoding":{"x":{"datum":0.207,"type":"quantitative"},"text":{"field":"m"}}},
{"transform":[{"filter":"datum.sub"}],"mark":{"type":"text","align":"left","baseline":"middle","fontSize":25,"dx":22,"dy":11},"encoding":{"x":{"datum":0.207,"type":"quantitative"},"text":{"field":"sub"}}},
{"transform":[{"filter":"datum.k=='Rp'"}],"mark":{"type":"text","align":"left","baseline":"middle","fontSize":34,"dx":80},"encoding":{"x":{"datum":0.207,"type":"quantitative"},"text":{"field":"r"}}},
{"transform":[{"filter":"datum.k=='Rm'"}],"mark":{"type":"text","align":"left","baseline":"middle","fontSize":34,"dx":53},"encoding":{"x":{"datum":0.207,"type":"quantitative"},"text":{"field":"r"}}},
{"transform":[{"filter":"datum.k=='Ag'"}],"mark":{"type":"text","align":"left","baseline":"middle","fontSize":34,"dx":46},"encoding":{"x":{"datum":0.207,"type":"quantitative"},"text":{"field":"r"}}}
]
}
]
},
{
"title":{"text":"c)","anchor":"start","fontSize":34,"fontWeight":"normal","color":"black","dy":37,"dx":0},
"spacing":30,
"hconcat":[
{
"width":525,"height":347,
"title":{"text":"316L ZYX","fontSize":26,"fontWeight":"normal","color":"#595959","offset":14},
"data":{"values":[
{"zone":"3","s":"Rp","v":452,"lo":440.2,"hi":465.4},
{"zone":"5","s":"Rp","v":450.3,"lo":434.5,"hi":467.1},
{"zone":"3","s":"Rm","v":551.2,"lo":533.4,"hi":571.4},
{"zone":"5","s":"Rm","v":562.3,"lo":545.2,"hi":580.8},
{"zone":"3","s":"Z","v":38.9,"lo":34.6,"hi":43.4},
{"zone":"5","s":"Z","v":44.2,"lo":30.8,"hi":57.5},
{"zone":"3","s":"A","v":10.3,"lo":6.9,"hi":13.6},
{"zone":"5","s":"A","v":10.0,"lo":4.6,"hi":15.6},
{"zone":"3","s":"Ag","v":7.5,"lo":3.5,"hi":11.9},
{"zone":"5","s":"Ag","v":8.6,"lo":3.7,"hi":13.6}
]},
"encoding":{
"x":{"field":"zone","type":"nominal","scale":{"domain":["1","3","5","7"],"paddingInner":0.54,"paddingOuter":0.27},"axis":{"labelAngle":0,"labelColor":"#595959","labelFontSize":22,"labelPadding":20,"ticks":false,"domainColor":"#D9D9D9","domainWidth":2,"title":"316L zones","titleFontSize":32,"titleFontWeight":"bold","titleColor":"black","titlePadding":9,"zindex":1}},
"color":{"field":"s","type":"nominal","scale":{"domain":["Rp","Rm","Z","A","Ag"],"range":["#70AD47","#00B050","#0070C0","#002060","#7030A0"]},"legend":null}
},
"layer":[
{
"transform":[{"filter":{"field":"s","oneOf":["Rp","Rm"]}}],
"encoding":{"xOffset":{"field":"s","type":"nominal","scale":{"domain":["Rp","Rm"],"paddingInner":0,"paddingOuter":0}}},
"layer":[
{"transform":[{"filter":"datum.s=='Rp'"}],"mark":{"type":"bar","stroke":"black","strokeWidth":1,"fill":"#92D050"},
"encoding":{"y":{"field":"v","type":"quantitative","scale":{"domain":[400,750],"zero":false,"nice":false},"axis":{"orient":"left","title":"Rₘ and Rₚ₀,₂ (MPa)","values":[400,450,500,550,600,650,700,750],"ticks":false,"domain":false,"labelColor":"#595959","labelFontSize":23,"labelPadding":25,"titleFontSize":32,"titleFontWeight":"bold","titleColor":"black","titlePadding":10}},"y2":{"datum":400}}},
{"transform":[{"filter":"datum.s=='Rm'"}],"mark":{"type":"bar","stroke":"black","strokeWidth":1,"fill":"#629B3D"},
"encoding":{"y":{"field":"v","type":"quantitative"},"y2":{"datum":400}}},
{"mark":{"type":"rule","strokeWidth":3},"encoding":{"y":{"field":"lo","type":"quantitative"},"y2":{"field":"hi"}}},
{"mark":{"type":"tick","orient":"horizontal","thickness":3,"size":10},"encoding":{"y":{"field":"lo","type":"quantitative"}}},
{"mark":{"type":"tick","orient":"horizontal","thickness":3,"size":10},"encoding":{"y":{"field":"hi","type":"quantitative"}}}
]
},
{
"transform":[{"filter":{"field":"s","oneOf":["Z","A","Ag"]}}],
"layer":[
{"mark":{"type":"line","strokeWidth":3.5,"clip":true},"encoding":{"y":{"field":"v","type":"quantitative","scale":{"domain":[0,70],"zero":false,"nice":false},"axis":{"orient":"right","title":"Ag, A and Z (%)","titleAngle":270,"titleBaseline":"top","values":[0,10,20,30,40,50,60,70],"labelColor":"black","labelFontSize":22,"labelPadding":16,"ticks":true,"tickSize":7,"tickColor":"#595959","tickWidth":1.5,"domain":true,"domainColor":"#404040","domainWidth":1.5,"titleFontSize":32,"titleFontWeight":"bold","titleColor":"black","titlePadding":24}},"stroke":{"field":"s","type":"nominal","scale":{"domain":["Z","A","Ag"],"range":["#4472C4","#203864","#7030A0"]},"legend":null}}},
{"mark":{"type":"rule","strokeWidth":3.5,"clip":true},"encoding":{"y":{"field":"lo","type":"quantitative"},"y2":{"field":"hi"}}},
{"mark":{"type":"tick","orient":"horizontal","thickness":3,"size":10,"clip":true},"encoding":{"y":{"field":"lo","type":"quantitative"}}},
{"mark":{"type":"tick","orient":"horizontal","thickness":3,"size":10,"clip":true},"encoding":{"y":{"field":"hi","type":"quantitative"}}}
]
}
],
"resolve":{"scale":{"y":"independent"}}
},
{
"width":290,"height":250,"view":{"stroke":null},
"data":{"values":[
{"k":"Rp","m":"R","sub":"p0,2","r":"316L ZYX"},
{"k":"Rm","m":"R","sub":"m","r":"316L ZYX"},
{"k":"Z","m":"Z 316L ZYX"},
{"k":"A","m":"A 316L ZYX"},
{"k":"Ag","m":"A","sub":"g","r":"316L ZYX"}
]},
"encoding":{"y":{"field":"k","type":"nominal","scale":{"domain":["Rp","Rm","Z","A","Ag"],"paddingInner":0,"paddingOuter":0.1},"axis":null}},
"layer":[
{"transform":[{"filter":{"field":"k","oneOf":["Rp","Rm"]}}],"mark":{"type":"point","shape":"square","size":1400,"filled":true,"opacity":1,"stroke":"black","strokeWidth":2},
"encoding":{"x":{"datum":0.08,"type":"quantitative","scale":{"domain":[0,1]},"axis":null},"fill":{"field":"k","type":"nominal","scale":{"domain":["Rp","Rm"],"range":["#92D050","#00B050"]},"legend":null}}},
{"transform":[{"filter":{"field":"k","oneOf":["Z","A","Ag"]}}],"mark":{"type":"point","shape":"M-1,-0.2H1V0.2H-1Z","size":1600,"filled":true,"opacity":1,"strokeWidth":0},
"encoding":{"x":{"datum":0.08,"type":"quantitative"},"color":{"field":"k","type":"nominal","scale":{"domain":["Z","A","Ag"],"range":["#5B9BD5","#002060","#7030A0"]},"legend":null}}},
{"mark":{"type":"text","align":"left","baseline":"middle","fontSize":34},"encoding":{"x":{"datum":0.207,"type":"quantitative"},"text":{"field":"m"}}},
{"transform":[{"filter":"datum.sub"}],"mark":{"type":"text","align":"left","baseline":"middle","fontSize":25,"dx":22,"dy":11},"encoding":{"x":{"datum":0.207,"type":"quantitative"},"text":{"field":"sub"}}},
{"transform":[{"filter":"datum.k=='Rp'"}],"mark":{"type":"text","align":"left","baseline":"middle","fontSize":34,"dx":80},"encoding":{"x":{"datum":0.207,"type":"quantitative"},"text":{"field":"r"}}},
{"transform":[{"filter":"datum.k=='Rm'"}],"mark":{"type":"text","align":"left","baseline":"middle","fontSize":34,"dx":53},"encoding":{"x":{"datum":0.207,"type":"quantitative"},"text":{"field":"r"}}},
{"transform":[{"filter":"datum.k=='Ag'"}],"mark":{"type":"text","align":"left","baseline":"middle","fontSize":34,"dx":46},"encoding":{"x":{"datum":0.207,"type":"quantitative"},"text":{"field":"r"}}}
]
}
]
}
]
}
